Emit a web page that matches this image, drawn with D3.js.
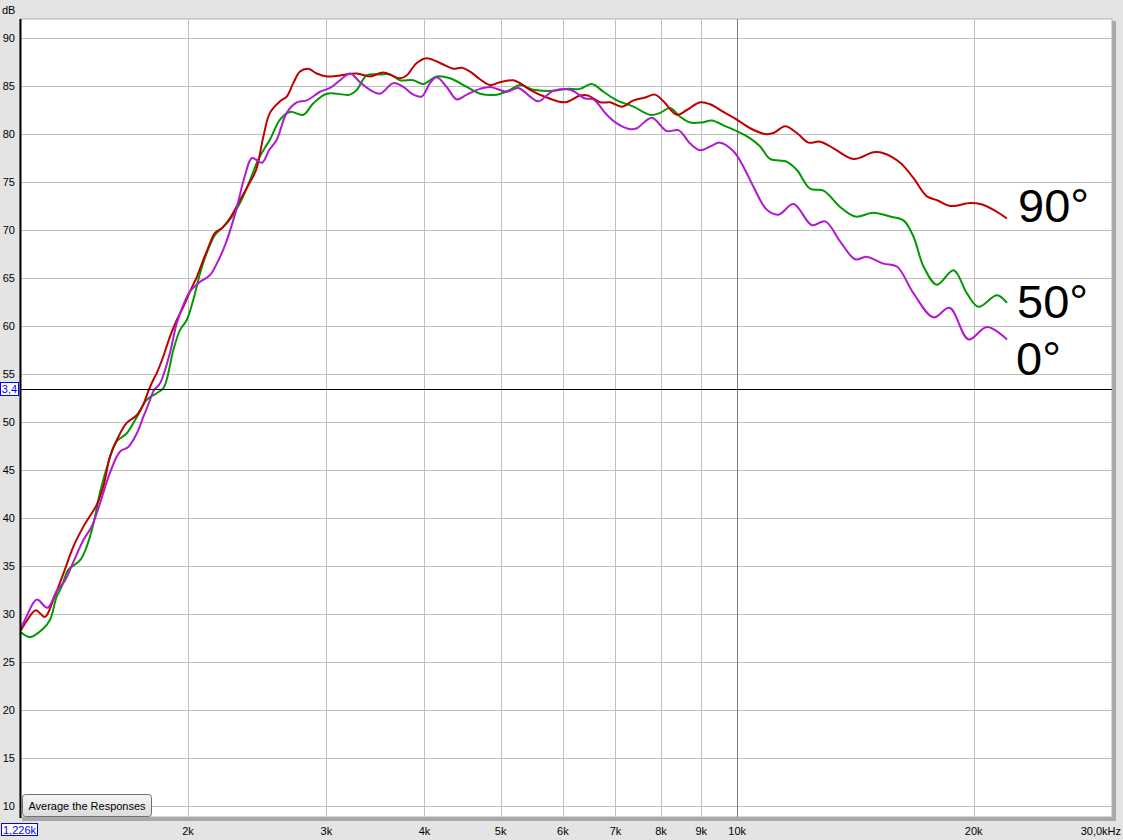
<!DOCTYPE html>
<html><head><meta charset="utf-8">
<script src="https://cdn.jsdelivr.net/npm/d3@7"></script>
<style>
html,body{margin:0;padding:0;background:#e4e4e4;}
svg{display:block;}
text{font-family:"Liberation Sans",Arial,sans-serif;}
</style></head>
<body>
<svg id="chart" width="1123" height="840"></svg>
<script>
// ---- data ----
const xTicks = [2000,3000,4000,5000,6000,7000,8000,9000,10000,20000];
const xTickLabels = ["2k","3k","4k","5k","6k","7k","8k","9k","10k","20k"];
const yTicks = [10,15,20,25,30,35,40,45,50,55,60,65,70,75,80,85,90];
const seriesNames = ["90°","50°","0°"];
const seriesColors = ["#c00000","#009a00","#b01ad0"];
const cursorDb = 53.4;

const freq90 = [1226,1247,1280,1315,1348,1388,1429,1472,1531,1561,1591,1623,1671,1721,1754,1780,1807,1825,1860,1897,1935,1973,2012,2052,2092,2116,2165,2210,2262,2329,2399,2442,2494,2543,2619,2671,2723,2777,2846,2917,3004,3123,3280,3410,3545,3723,3796,3910,4026,4186,4352,4461,4571,4707,4847,4991,5190,5292,5450,5723,6039,6310,6466,6693,6892,7132,7380,7636,7862,8057,8379,8630,8974,9240,9606,9991,10389,10855,11124,11511,11914,12326,12757,13265,14064,14914,15356,16128,16769,17440,17960,18674,19802,20390,21202,22050];
const db90 = [28.3,29.3,30.4,29.7,31.5,34.2,37.0,39.1,41.4,43.3,46.4,48.1,49.9,50.7,51.8,53.2,54.4,55.1,56.8,58.9,60.6,62.0,63.6,65.1,66.9,67.9,69.7,70.2,71.25,73.1,75.0,76.25,79.7,82.2,83.4,83.9,85.3,86.5,86.8,86.3,86.0,86.1,86.3,86.0,86.4,85.8,86.1,87.4,87.9,87.4,86.8,86.9,86.5,85.7,85.1,85.4,85.6,85.3,84.6,83.8,83.3,84.0,84.0,83.3,83.3,82.85,83.5,83.8,84.1,83.4,82.0,82.5,83.3,83.1,82.3,81.5,80.6,80.0,80.1,80.8,80.1,79.1,79.2,78.5,77.4,78.1,78.0,77.0,75.4,73.5,73.1,72.5,72.8,72.7,72.1,71.2];

const freq50 = [1226,1259,1309,1335,1361,1382,1408,1458,1486,1516,1545,1583,1623,1671,1721,1772,1825,1860,1879,1916,1954,1992,2031,2072,2113,2165,2210,2262,2329,2399,2456,2507,2543,2619,2697,2804,2888,3004,3216,3280,3377,3512,3616,3723,3871,3986,4146,4311,4527,4707,4943,5140,5292,5503,5835,6069,6310,6530,6758,7029,7380,7748,7979,8216,8461,8715,9018,9287,9606,9991,10389,10698,11016,11569,11914,12387,12879,13526,14134,14914,15662,16284,16769,17268,17960,18856,19610,20290,21414,22050];
const db50 = [28.1,27.6,28.5,29.4,31.8,32.9,34.6,35.6,37.0,39.4,42.6,45.7,48.0,48.8,50.5,52.3,53.0,53.5,54.4,57.5,59.6,60.6,62.7,65.5,67.6,69.5,70.2,71.1,72.8,75.2,77.3,78.6,79.4,81.5,82.3,82.0,83.2,84.2,84.1,84.6,86.1,86.2,86.2,85.6,85.6,85.2,86.0,85.8,84.9,84.2,84.1,84.6,85.1,84.6,84.5,84.7,84.7,85.2,84.4,83.5,82.85,82.0,82.2,82.7,81.8,81.2,81.2,81.4,80.9,80.3,79.55,78.7,77.4,77.1,76.25,74.3,74.1,72.4,71.4,71.8,71.4,71.0,69.3,66.2,64.3,65.8,63.4,62.0,63.2,62.4];

const freq0 = [1226,1247,1284,1325,1361,1395,1429,1472,1508,1545,1591,1638,1679,1721,1754,1780,1810,1842,1897,1935,1973,2012,2072,2133,2176,2229,2295,2364,2413,2484,2536,2594,2671,2751,2833,2945,3033,3123,3216,3311,3410,3512,3651,3759,3871,3967,4065,4146,4269,4396,4527,4707,4847,5090,5267,5450,5584,5835,6128,6404,6561,6826,7029,7309,7454,7787,8138,8419,8715,8974,9240,9514,9892,10186,10490,10911,11288,11796,12449,12944,13526,14134,14627,15356,15972,16769,17782,18636,19702,20796,22050];
const db0 = [28.5,29.8,31.5,30.65,32.4,33.5,35.4,37.7,39.1,41.5,44.7,46.9,47.4,48.8,50.5,51.8,53.3,54.0,57.2,60.3,62.2,63.6,64.6,65.3,66.5,68.4,71.6,75.7,77.5,77.0,78.3,79.4,82.2,83.3,83.5,84.4,84.8,85.6,86.3,85.4,84.6,84.2,85.3,84.9,84.1,83.9,85.3,85.9,84.9,83.6,84.1,84.7,84.9,84.4,84.8,83.9,83.4,84.5,84.6,83.7,83.6,82.0,81.1,80.5,80.6,81.7,80.3,80.4,79.0,78.3,78.7,79.1,78.2,76.6,74.5,72.1,71.6,72.7,70.5,70.9,68.8,66.95,67.2,66.5,66.2,63.4,60.9,61.9,58.6,59.9,58.6];

// ---- layout ----
const svg = d3.select("#chart");
const W = 1123, H = 840;
const L = 20, R = 1112, T = 19, B = 817;
const x = d3.scaleLog().domain([1226, 30000]).range([21, 1112]);
const y = d3.scaleLinear().domain([10, 90]).range([806, 38]);

svg.append("rect").attr("width", W).attr("height", H).attr("fill", "#e4e4e4");
// shadow
svg.append("rect").attr("x", L+2).attr("y", T+2).attr("width", R-L+2).attr("height", B-T+2).attr("fill", "#a8a8a8");
svg.append("rect").attr("x", L).attr("y", T).attr("width", R-L).attr("height", B-T).attr("fill", "#fff").attr("stroke","#b0b0b0").attr("stroke-width",1);

const defs = svg.append("defs");
defs.append("clipPath").attr("id","plotclip").append("rect").attr("x",L).attr("y",T).attr("width",R-L).attr("height",B-T);

const g = svg.append("g").attr("clip-path","url(#plotclip)");
// horizontal grid
g.selectAll("line.hg").data(yTicks).join("line").attr("class","hg")
  .attr("x1", L).attr("x2", R).attr("y1", d => Math.round(y(d))+0.5).attr("y2", d => Math.round(y(d))+0.5)
  .attr("stroke", "#c0c0c0").attr("stroke-width", 1);
// vertical grid
g.selectAll("line.vg").data(xTicks).join("line").attr("class","vg")
  .attr("x1", d => Math.round(x(d))+0.5).attr("x2", d => Math.round(x(d))+0.5).attr("y1", T).attr("y2", B)
  .attr("stroke", d => d === 10000 ? "#7a7a7a" : "#c0c0c0").attr("stroke-width", 1);

// curves
const series = [
  {name: seriesNames[0], color: seriesColors[0], f: freq90, v: db90},
  {name: seriesNames[1], color: seriesColors[1], f: freq50, v: db50},
  {name: seriesNames[2], color: seriesColors[2], f: freq0, v: db0}
];
const line = d3.line().x(d => x(d[0])).y(d => y(d[1])).curve(d3.curveCatmullRom.alpha(0.5));
[1,0,2].forEach(i => {
  const s = series[i];
  g.append("path").datum(s.f.map((f,k)=>[f, s.v[k]]))
    .attr("d", line).attr("fill","none").attr("stroke", s.color).attr("stroke-width", 2)
    .attr("stroke-linejoin","round");
});

// cursor line
g.append("line").attr("x1", L).attr("x2", R).attr("y1", Math.round(y(cursorDb))+0.5).attr("y2", Math.round(y(cursorDb))+0.5)
  .attr("stroke", "#000").attr("stroke-width", 1);

// left black axis line
svg.append("line").attr("x1", L+0.5).attr("x2", L+0.5).attr("y1", T).attr("y2", B+1).attr("stroke","#000").attr("stroke-width",2);

// series labels
const labelPos = [{dx: 1018, base: 222}, {dx: 1017, base: 318}, {dx: 1016, base: 375}];
series.forEach((s,i) => {
  svg.append("text").attr("x", labelPos[i].dx).attr("y", labelPos[i].base)
    .attr("font-size", 47).attr("fill", "#000").text(s.name);
});

// y tick labels
svg.selectAll("text.yt").data(yTicks).join("text").attr("class","yt")
  .attr("x", 15).attr("y", d => y(d) + 4).attr("text-anchor","end")
  .attr("font-size", 11).attr("fill","#000").text(d => d);
svg.append("text").attr("x", 2).attr("y", 14).attr("font-size", 11).text("dB");

// x tick labels
svg.selectAll("text.xt").data(xTicks).join("text").attr("class","xt")
  .attr("x", d => x(d)).attr("y", 835).attr("text-anchor","middle")
  .attr("font-size", 11).attr("fill","#000").text((d,i) => xTickLabels[i]);
svg.append("text").attr("x", 1121).attr("y", 835).attr("text-anchor","end").attr("font-size", 11).text("30,0kHz");

// start-frequency box
svg.append("rect").attr("x", 1.5).attr("y", 823.5).attr("width", 36).attr("height", 12).attr("fill","#fff").attr("stroke","#0000ff");
svg.append("text").attr("x", 19.5).attr("y", 833.5).attr("text-anchor","middle").attr("font-size", 11).attr("fill","#0000ff").text("1,226k");

// cursor value box
svg.append("rect").attr("x", 0.5).attr("y", Math.round(y(cursorDb))-6.5).attr("width", 18).attr("height", 13).attr("fill","#fff").attr("stroke","#0000ff");
svg.append("text").attr("x", 9.5).attr("y", Math.round(y(cursorDb))+4).attr("text-anchor","middle").attr("font-size", 11).attr("fill","#0000ff").text("3,4");

// button
const grad = defs.append("linearGradient").attr("id","btn").attr("x1",0).attr("x2",0).attr("y1",0).attr("y2",1);
grad.append("stop").attr("offset","0%").attr("stop-color","#f6f6f6");
grad.append("stop").attr("offset","100%").attr("stop-color","#dcdcdc");
svg.append("rect").attr("x", 22.5).attr("y", 794.5).attr("width", 129).attr("height", 22).attr("rx", 3)
  .attr("fill","url(#btn)").attr("stroke","#707070");
svg.append("text").attr("x", 87).attr("y", 809.5).attr("text-anchor","middle").attr("font-size", 11).attr("fill","#000").text("Average the Responses");
</script>
</body></html>
